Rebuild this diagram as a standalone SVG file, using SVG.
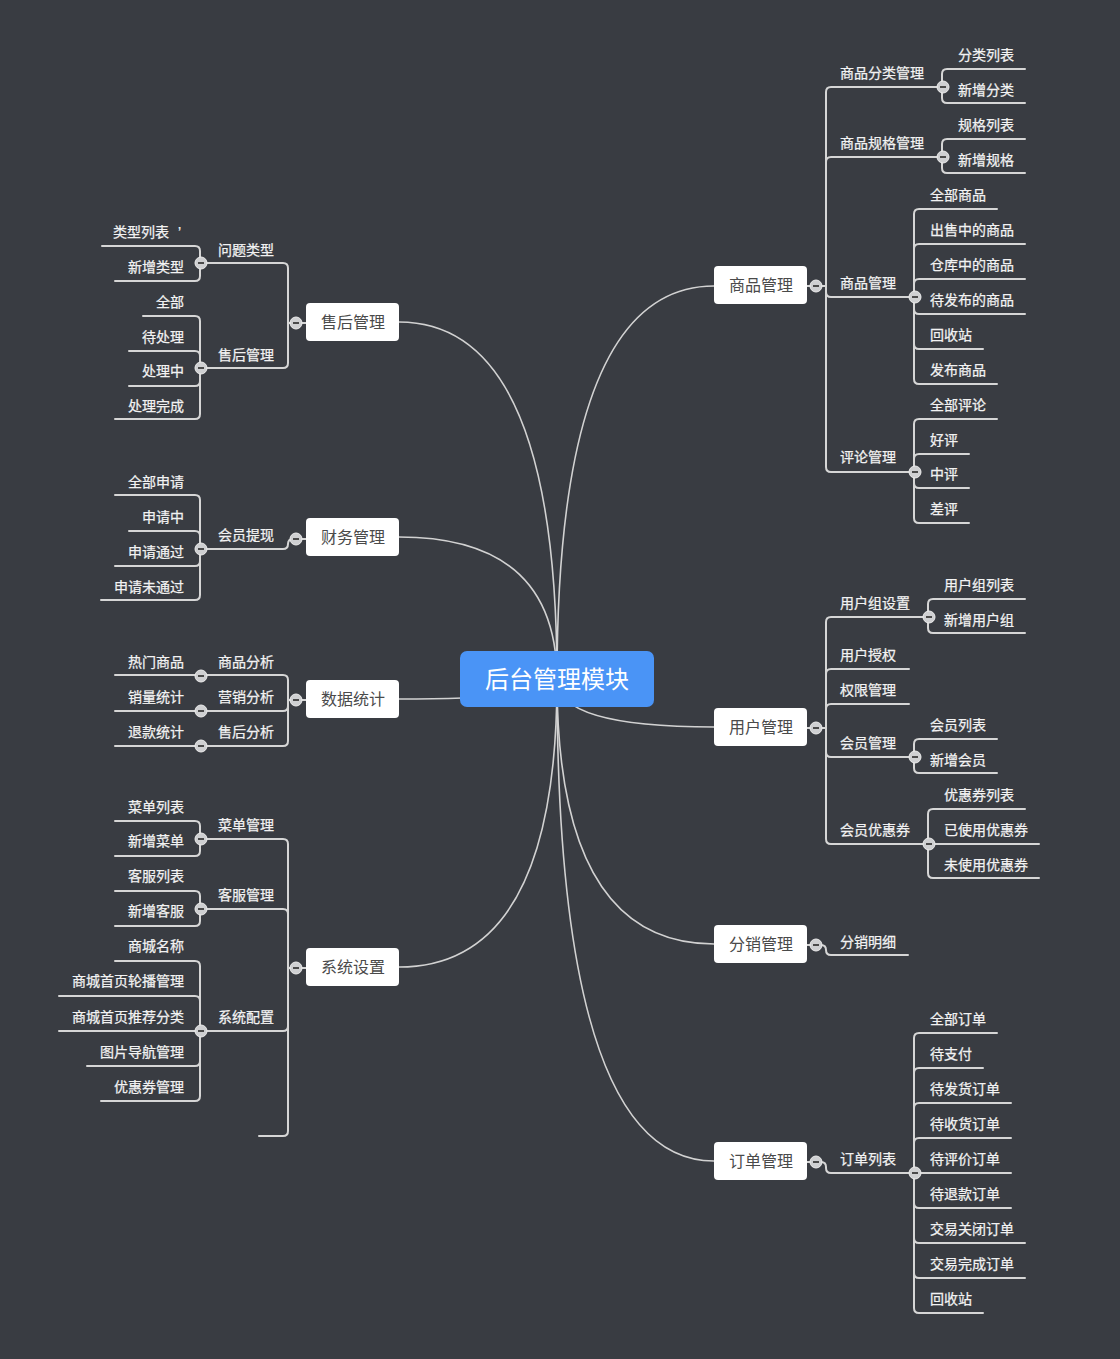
<svg xmlns="http://www.w3.org/2000/svg" xmlns:xlink="http://www.w3.org/1999/xlink" width="1120" height="1359" viewBox="0 0 1120 1359">
<style>
.bg{fill:#393c42}
.c{fill:none;stroke:#d6d6d6;stroke-width:2;stroke-linecap:round}
.r{fill:none;stroke:#d2d2d2;stroke-width:1.6}
text{font-family:"Noto Sans CJK SC","Microsoft YaHei",sans-serif}
.t{font-size:14px;fill:#f2f2f2;stroke:#f2f2f2;stroke-width:0.25}
.e{text-anchor:end}
.box{fill:#ffffff}
.bt{font-size:16px;fill:#4a4a4a;text-anchor:middle}
.rt{font-size:24px;fill:#ffffff;text-anchor:middle}
.ap{font-family:"Liberation Sans",sans-serif}
</style>
<defs>
<g id="tg"><circle r="6" fill="#cfd0d2" stroke="#ececec" stroke-width="1"/><path d="M-3,0H3" stroke="#4a4a4a" stroke-width="2"/></g>
</defs>
<rect class="bg" x="0" y="0" width="1120" height="1359"/>

<!-- curves from the central topic -->
<g id="root-links">
<path class="r" d="M557,680Q557,286 714,286"/>
<path class="r" d="M557,680Q557,727 714,727"/>
<path class="r" d="M557,680Q557,944 714,944"/>
<path class="r" d="M557,680Q557,1161 714,1161"/>
<path class="r" d="M557,680Q557,322 399,322"/>
<path class="r" d="M557,680Q557,537 399,537"/>
<path class="r" d="M557,680Q557,699 399,699"/>
<path class="r" d="M557,680Q557,967 399,967"/>
</g>

<!-- branch trees -->
<g id="connectors">
<!-- 商品管理 -->
<path class="c" d="M807,286H826M826,92V467M826,92Q826,87 831,87H943M826,162Q826,157 831,157H943M826,292Q826,297 831,297H915M826,467Q826,472 831,472H915"/>
<path class="c" d="M942,74V98M942,74Q942,69 947,69H1025M942,98Q942,103 947,103H1025"/>
<path class="c" d="M942,144V168M942,144Q942,139 947,139H1025M942,168Q942,173 947,173H1025"/>
<path class="c" d="M914,214V379M914,214Q914,209 919,209H997M914,249Q914,244 919,244H1025M914,284Q914,279 919,279H1025M914,309Q914,314 919,314H1025M914,344Q914,349 919,349H983M914,379Q914,384 919,384H997"/>
<path class="c" d="M914,424V518M914,424Q914,419 919,419H997M914,459Q914,454 919,454H969M914,483Q914,488 919,488H969M914,518Q914,523 919,523H969"/>
<!-- 用户管理 -->
<path class="c" d="M807,728H826M826,622V839M826,622Q826,617 831,617H929M826,674Q826,669 831,669H909M826,709Q826,704 831,704H909M826,752Q826,757 831,757H915M826,839Q826,844 831,844H929"/>
<path class="c" d="M928,604V628M928,604Q928,599 933,599H1025M928,628Q928,633 933,633H1025"/>
<path class="c" d="M914,744V768M914,744Q914,739 919,739H997M914,768Q914,773 919,773H997"/>
<path class="c" d="M928,814V873M928,814Q928,809 933,809H1025M928,844H1039M928,873Q928,878 933,878H1039"/>
<!-- 分销管理 -->
<path class="c" d="M807,945H821Q826,945 826,950Q826,955 831,955H908"/>
<!-- 订单管理 -->
<path class="c" d="M807,1162H821Q826,1162 826,1167V1168Q826,1173 831,1173H914"/>
<path class="c" d="M914,1038V1308M914,1038Q914,1033 919,1033H997M914,1073Q914,1068 919,1068H983M914,1108Q914,1103 919,1103H1011M914,1143Q914,1138 919,1138H1011M914,1173H1011M914,1203Q914,1208 919,1208H1011M914,1238Q914,1243 919,1243H1025M914,1273Q914,1278 919,1278H1025M914,1308Q914,1313 919,1313H983"/>
<!-- 售后管理 -->
<path class="c" d="M306,323H288M288,268V363M288,268Q288,263 283,263H201M288,363Q288,368 283,368H201"/>
<path class="c" d="M200,251V276M200,251Q200,246 195,246H102M200,276Q200,281 195,281H115"/>
<path class="c" d="M200,321V414M200,321Q200,316 195,316H143M200,356Q200,351 195,351H129M200,381Q200,386 195,386H129M200,414Q200,419 195,419H115"/>
<!-- 财务管理 -->
<path class="c" d="M306,539H293Q288,539 288,544Q288,549 283,549H201"/>
<path class="c" d="M200,500V595M200,500Q200,495 195,495H115M200,536Q200,531 195,531H129M200,561Q200,566 195,566H115M200,595Q200,600 195,600H101"/>
<!-- 数据统计 -->
<path class="c" d="M306,700H288M288,680V741M288,680Q288,675 283,675H115M288,706Q288,711 283,711H115M288,741Q288,746 283,746H115"/>
<!-- 系统设置 -->
<path class="c" d="M306,968H288M288,844V1131M288,844Q288,839 283,839H201M288,914Q288,909 283,909H201M288,1026Q288,1031 283,1031H201M288,1131Q288,1136 283,1136H259"/>
<path class="c" d="M200,826V851M200,826Q200,821 195,821H115M200,851Q200,856 195,856H115"/>
<path class="c" d="M200,896V921M200,896Q200,891 195,891H115M200,921Q200,926 195,926H115"/>
<path class="c" d="M200,966V1096M200,966Q200,961 195,961H115M200,1001Q200,996 195,996H59M200,1031H59M200,1061Q200,1066 195,1066H87M200,1096Q200,1101 195,1101H101"/>
</g>

<!-- central topic -->
<g id="root">
<rect x="460" y="651" width="194" height="56" rx="7" fill="#4a94f6"/>
<text class="rt" x="557" y="688">后台管理模块</text>
</g>

<!-- main topics -->
<g id="n-goods"><rect class="box" x="714" y="266" width="93" height="38" rx="4"/><text class="bt" x="761" y="291">商品管理</text></g>
<g id="n-users"><rect class="box" x="714" y="708" width="93" height="38" rx="4"/><text class="bt" x="761" y="733">用户管理</text></g>
<g id="n-dist"><rect class="box" x="714" y="925" width="93" height="38" rx="4"/><text class="bt" x="761" y="950">分销管理</text></g>
<g id="n-orders"><rect class="box" x="714" y="1142" width="93" height="38" rx="4"/><text class="bt" x="761" y="1167">订单管理</text></g>
<g id="n-service"><rect class="box" x="306" y="303" width="93" height="38" rx="4"/><text class="bt" x="353" y="328">售后管理</text></g>
<g id="n-finance"><rect class="box" x="306" y="518" width="93" height="38" rx="4"/><text class="bt" x="353" y="543">财务管理</text></g>
<g id="n-stats"><rect class="box" x="306" y="680" width="93" height="38" rx="4"/><text class="bt" x="353" y="705">数据统计</text></g>
<g id="n-system"><rect class="box" x="306" y="948" width="93" height="38" rx="4"/><text class="bt" x="353" y="973">系统设置</text></g>

<!-- 商品管理 subtopics -->
<g id="n-g1"><text class="t" x="840" y="78">商品分类管理</text></g>
<g id="n-g1a"><text class="t" x="958" y="60">分类列表</text></g>
<g id="n-g1b"><text class="t" x="958" y="95">新增分类</text></g>
<g id="n-g2"><text class="t" x="840" y="148">商品规格管理</text></g>
<g id="n-g2a"><text class="t" x="958" y="130">规格列表</text></g>
<g id="n-g2b"><text class="t" x="958" y="165">新增规格</text></g>
<g id="n-g3"><text class="t" x="840" y="288">商品管理</text></g>
<g id="n-g3a"><text class="t" x="930" y="200">全部商品</text></g>
<g id="n-g3b"><text class="t" x="930" y="235">出售中的商品</text></g>
<g id="n-g3c"><text class="t" x="930" y="270">仓库中的商品</text></g>
<g id="n-g3d"><text class="t" x="930" y="305">待发布的商品</text></g>
<g id="n-g3e"><text class="t" x="930" y="340">回收站</text></g>
<g id="n-g3f"><text class="t" x="930" y="375">发布商品</text></g>
<g id="n-g4"><text class="t" x="840" y="462">评论管理</text></g>
<g id="n-g4a"><text class="t" x="930" y="410">全部评论</text></g>
<g id="n-g4b"><text class="t" x="930" y="445">好评</text></g>
<g id="n-g4c"><text class="t" x="930" y="479">中评</text></g>
<g id="n-g4d"><text class="t" x="930" y="514">差评</text></g>

<!-- 用户管理 subtopics -->
<g id="n-u1"><text class="t" x="840" y="608">用户组设置</text></g>
<g id="n-u1a"><text class="t" x="944" y="590">用户组列表</text></g>
<g id="n-u1b"><text class="t" x="944" y="625">新增用户组</text></g>
<g id="n-u2"><text class="t" x="840" y="660">用户授权</text></g>
<g id="n-u3"><text class="t" x="840" y="695">权限管理</text></g>
<g id="n-u4"><text class="t" x="840" y="748">会员管理</text></g>
<g id="n-u4a"><text class="t" x="930" y="730">会员列表</text></g>
<g id="n-u4b"><text class="t" x="930" y="765">新增会员</text></g>
<g id="n-u5"><text class="t" x="840" y="835">会员优惠券</text></g>
<g id="n-u5a"><text class="t" x="944" y="800">优惠券列表</text></g>
<g id="n-u5b"><text class="t" x="944" y="835">已使用优惠券</text></g>
<g id="n-u5c"><text class="t" x="944" y="870">未使用优惠券</text></g>

<!-- 分销管理 subtopic -->
<g id="n-d1"><text class="t" x="840" y="947">分销明细</text></g>

<!-- 订单管理 subtopics -->
<g id="n-o1"><text class="t" x="840" y="1164">订单列表</text></g>
<g id="n-o1a"><text class="t" x="930" y="1024">全部订单</text></g>
<g id="n-o1b"><text class="t" x="930" y="1059">待支付</text></g>
<g id="n-o1c"><text class="t" x="930" y="1094">待发货订单</text></g>
<g id="n-o1d"><text class="t" x="930" y="1129">待收货订单</text></g>
<g id="n-o1e"><text class="t" x="930" y="1164">待评价订单</text></g>
<g id="n-o1f"><text class="t" x="930" y="1199">待退款订单</text></g>
<g id="n-o1g"><text class="t" x="930" y="1234">交易关闭订单</text></g>
<g id="n-o1h"><text class="t" x="930" y="1269">交易完成订单</text></g>
<g id="n-o1i"><text class="t" x="930" y="1304">回收站</text></g>

<!-- 售后管理 subtopics -->
<g id="n-s1"><text class="t e" x="274" y="255">问题类型</text></g>
<g id="n-s1a"><text class="t" x="113" y="237">类型列表<tspan class="ap" dx="9">’</tspan></text></g>
<g id="n-s1b"><text class="t e" x="184" y="272">新增类型</text></g>
<g id="n-s2"><text class="t e" x="274" y="360">售后管理</text></g>
<g id="n-s2a"><text class="t e" x="184" y="307">全部</text></g>
<g id="n-s2b"><text class="t e" x="184" y="342">待处理</text></g>
<g id="n-s2c"><text class="t e" x="184" y="376">处理中</text></g>
<g id="n-s2d"><text class="t e" x="184" y="411">处理完成</text></g>

<!-- 财务管理 subtopics -->
<g id="n-f1"><text class="t e" x="274" y="540">会员提现</text></g>
<g id="n-f1a"><text class="t e" x="184" y="487">全部申请</text></g>
<g id="n-f1b"><text class="t e" x="184" y="522">申请中</text></g>
<g id="n-f1c"><text class="t e" x="184" y="557">申请通过</text></g>
<g id="n-f1d"><text class="t e" x="184" y="592">申请未通过</text></g>

<!-- 数据统计 subtopics -->
<g id="n-a1"><text class="t e" x="274" y="667">商品分析</text></g>
<g id="n-a1a"><text class="t e" x="184" y="667">热门商品</text></g>
<g id="n-a2"><text class="t e" x="274" y="702">营销分析</text></g>
<g id="n-a2a"><text class="t e" x="184" y="702">销量统计</text></g>
<g id="n-a3"><text class="t e" x="274" y="737">售后分析</text></g>
<g id="n-a3a"><text class="t e" x="184" y="737">退款统计</text></g>

<!-- 系统设置 subtopics -->
<g id="n-y1"><text class="t e" x="274" y="830">菜单管理</text></g>
<g id="n-y1a"><text class="t e" x="184" y="812">菜单列表</text></g>
<g id="n-y1b"><text class="t e" x="184" y="846">新增菜单</text></g>
<g id="n-y2"><text class="t e" x="274" y="900">客服管理</text></g>
<g id="n-y2a"><text class="t e" x="184" y="881">客服列表</text></g>
<g id="n-y2b"><text class="t e" x="184" y="916">新增客服</text></g>
<g id="n-y3"><text class="t e" x="274" y="1022">系统配置</text></g>
<g id="n-y3a"><text class="t e" x="184" y="951">商城名称</text></g>
<g id="n-y3b"><text class="t e" x="184" y="986">商城首页轮播管理</text></g>
<g id="n-y3c"><text class="t e" x="184" y="1022">商城首页推荐分类</text></g>
<g id="n-y3d"><text class="t e" x="184" y="1057">图片导航管理</text></g>
<g id="n-y3e"><text class="t e" x="184" y="1092">优惠券管理</text></g>

<!-- collapse toggles -->
<g id="toggles">
<use xlink:href="#tg" x="816" y="286"/>
<use xlink:href="#tg" x="943" y="87"/>
<use xlink:href="#tg" x="943" y="157"/>
<use xlink:href="#tg" x="915" y="297"/>
<use xlink:href="#tg" x="915" y="472"/>
<use xlink:href="#tg" x="816" y="728"/>
<use xlink:href="#tg" x="929" y="617"/>
<use xlink:href="#tg" x="915" y="757"/>
<use xlink:href="#tg" x="929" y="844"/>
<use xlink:href="#tg" x="816" y="945"/>
<use xlink:href="#tg" x="816" y="1162"/>
<use xlink:href="#tg" x="915" y="1173"/>
<use xlink:href="#tg" x="296" y="323"/>
<use xlink:href="#tg" x="201" y="263"/>
<use xlink:href="#tg" x="201" y="368"/>
<use xlink:href="#tg" x="296" y="539"/>
<use xlink:href="#tg" x="201" y="549"/>
<use xlink:href="#tg" x="296" y="700"/>
<use xlink:href="#tg" x="201" y="676"/>
<use xlink:href="#tg" x="201" y="711"/>
<use xlink:href="#tg" x="201" y="746"/>
<use xlink:href="#tg" x="296" y="968"/>
<use xlink:href="#tg" x="201" y="839"/>
<use xlink:href="#tg" x="201" y="909"/>
<use xlink:href="#tg" x="201" y="1031"/>
</g>
</svg>
